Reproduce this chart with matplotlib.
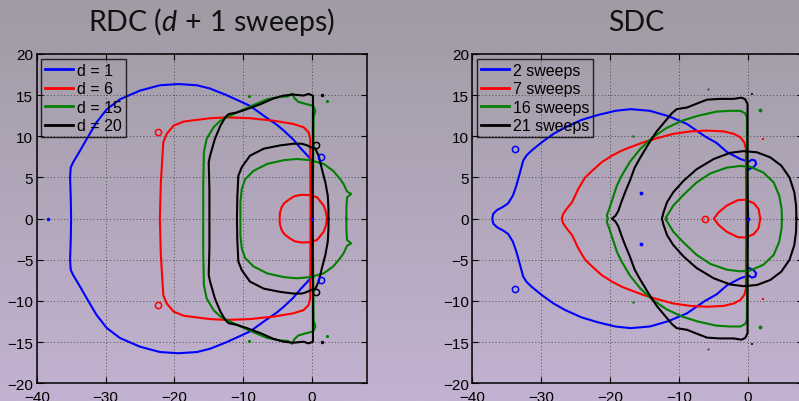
import numpy as np
import matplotlib
matplotlib.use('Agg')
from matplotlib import pyplot as plt

plt.rcParams['font.family'] = ['Liberation Sans', 'DejaVu Sans']
plt.rcParams['mathtext.fontset'] = 'custom'
plt.rcParams['mathtext.rm'] = 'Lato'
plt.rcParams['mathtext.it'] = 'Lato:italic'

# ---- RDC panel (upper halves, curves are symmetric about the real axis) ----
rdc_labels = ['d = 1', 'd = 6', 'd = 15', 'd = 20']

rdc_d1_x = [0, 0, -0.25, -1.7, -2.7, -4.1, -5.1, -6.5, -9.0, -12.4, -14.8, -16.7, -19.4,
            -22.1, -25.0, -27.9, -29.8, -31.3, -32.5, -33.0, -33.7, -34.7, -35.05, -35.15, -35.05, -35.0]
rdc_d1_y = [0, 7.05, 7.3, 8.6, 9.6, 10.7, 11.4, 12.2, 13.7, 15.0, 15.8, 16.2, 16.35,
            16.2, 15.55, 14.5, 13.3, 11.7, 10.0, 9.28, 8.26, 6.85, 6.24, 5.03, 2.5, 0]

rdc_d6_x = [-0.2, -0.25, -0.5, -1.2, -2.7, -5.6, -9.0, -12.4, -14.8, -16.7, -18.6, -20.1,
            -21.1, -21.6, -21.96, -22.1]
rdc_d6_y = [0, 9.7, 10.5, 11.1, 11.5, 11.9, 12.2, 12.3, 12.2, 12.0, 11.8, 11.3,
            10.3, 9.3, 4.4, 0]
rdc_d6_in_x = [2.2, 2.0, 1.7, 0.73, -0.3, -1.46, -2.5, -3.2, -4.0, -4.4, -4.65, -4.7]
rdc_d6_in_y = [0, 0.9, 1.6, 2.6, 2.85, 2.9, 2.75, 2.4, 1.9, 1.4, 0.7, 0]

rdc_d15_x = [0.1, 0.25, 0.5, 0.2, -1.0, -2.0, -2.5, -2.9, -3.5, -4.6, -6.5, -8.5, -10.4,
             -12.4, -13.3, -14.3, -15.3, -15.7, -15.8, -15.8]
rdc_d15_y = [0, 12.4, 13.1, 13.7, 13.95, 14.2, 14.6, 15.2, 14.85, 14.8, 14.5, 13.8, 13.1,
             12.3, 11.9, 11.1, 9.7, 8.1, 4.0, 0]
rdc_d15_in_x = [5.0, 5.0, 5.1, 5.7, 5.1, 4.6, 4.1, 3.1, 1.7, -0.25, -2.2, -4.1, -6.5,
                -8.5, -9.7, -10.2, -10.4, -10.4]
rdc_d15_in_y = [0, 1.2, 2.6, 3.0, 3.3, 4.2, 4.8, 5.8, 6.65, 7.1, 7.25, 7.1, 6.65,
                5.8, 4.8, 3.6, 2.0, 0]

rdc_d20_x = [0.1, 0.15, -0.5, -1.2, -2.7, -4.1, -5.6, -7.5, -9.45, -10.9, -12.1, -12.6,
             -13.3, -14.1, -14.8, -15.0, -14.9, -14.9]
rdc_d20_y = [0, 14.95, 15.15, 14.95, 15.07, 14.95, 14.6, 13.9, 13.3, 12.9, 12.7, 12.3,
             11.3, 9.7, 7.65, 6.85, 3.5, 0]
rdc_d20_in_x = [2.4, 2.4, 2.3, 1.95, 1.45, 0.97, 0.5, -0.25, -0.7, -1.45, -2.7, -4.6,
                -7.0, -9.0, -10.2, -10.7, -10.85, -10.9]
rdc_d20_in_y = [0, 1.2, 2.8, 4.4, 6.0, 7.65, 8.5, 8.7, 8.9, 9.1, 9.1, 8.9,
                8.5, 7.65, 6.25, 5.2, 2.5, 0]

# isolated points (x, y)
rdc_blue_dots = ([-38.4, 0], [0, 0])
rdc_blue_rings = ([1.25, 1.25], [7.45, -7.45])
rdc_red_rings = ([-22.4, -22.4], [10.5, -10.5])
rdc_green_dots = ([-9.2, -9.2, 2.2, 2.2], [14.9, -14.9, 14.3, -14.3])
rdc_black_rings = ([0.6, 0.6], [8.9, -8.9])
rdc_black_dots = ([1.45, 1.45], [15.0, -15.0])

# ---- SDC panel ----
sdc_labels = ['2 sweeps', '7 sweeps', '16 sweeps', '21 sweeps']

sdc_s2_x = [0.1, -0.1, 0.29, 0.87, 1.26, 1.1, 0.63, 0.15, -0.34, -1.07, -3.0, -4.5, -6.2,
            -8.8, -11.5, -14.2, -17.0, -19.2, -21.7, -24.1, -26.5, -28.2, -29.9, -31.4,
            -32.1, -32.6, -33.2, -33.6, -34.1, -34.8, -35.6, -36.4, -36.95, -37.1]
sdc_s2_y = [0, 5.83, 6.03, 6.24, 6.64, 7.05, 7.17, 6.9, 7.05, 7.25, 8.1, 9.2, 10.0,
            11.5, 12.45, 13.1, 13.3, 13.1, 12.6, 12.0, 11.1, 10.3, 9.28, 8.26,
            7.7, 7.05, 5.2, 4.0, 2.8, 1.85, 1.4, 1.05, 0.6, 0]

sdc_s7_x = [-0.2, -0.24, -0.48, -1.07, -2.0, -3.5, -5.9, -8.3, -10.8, -13.2, -15.1, -17.1,
            -18.3, -19.7, -21.2, -22.6, -23.6, -24.6, -25.5, -26.3, -26.8, -27.0]
sdc_s7_y = [0, 8.5, 9.28, 9.9, 10.3, 10.6, 10.7, 10.6, 10.3, 9.76, 9.28, 8.66,
            8.26, 7.65, 6.85, 5.8, 5.0, 3.6, 2.0, 1.17, 0.57, 0]
sdc_s7_in_x = [1.85, 1.6, 0.88, -0.33, -1.4, -3.0, -4.2, -4.9]
sdc_s7_in_y = [0, 1.17, 1.9, 2.3, 2.25, 1.6, 0.77, 0]

sdc_s16_x = [0, -0.1, -0.34, -1.07, -2.5, -4.5, -7.2, -9.5, -11.8, -13.9, -15.6, -17.1,
             -18.3, -19.0, -19.7, -20.1, -20.45, -20.3]
sdc_s16_y = [0, 12.3, 12.8, 13.1, 13.1, 13.0, 12.5, 11.9, 11.0, 9.8, 8.46, 6.9,
             5.2, 4.0, 2.2, 1.2, 0.4, 0]
sdc_s16_in_x = [5.0, 4.95, 4.6, 3.8, 2.3, 0.39, -1.07, -3.0, -5.4, -7.4, -9.3, -10.8,
                -11.5, -11.9, -11.7]
sdc_s16_in_y = [0, 1.17, 2.8, 4.4, 5.6, 6.3, 6.4, 6.2, 5.5, 4.4, 2.9, 1.58,
                0.6, 0.1, 0]

sdc_s21_x = [0, 0, -0.34, -0.9, -2.0, -4.0, -5.9, -7.6, -8.8, -10.3, -11.0, -11.9, -13.2,
             -14.3, -15.6, -16.4, -17.1, -17.8, -18.3, -18.8, -19.2, -19.7]
sdc_s21_y = [0, 13.9, 14.5, 14.7, 14.55, 14.55, 14.45, 13.9, 13.5, 13.3, 12.8, 11.9, 10.6,
             9.2, 7.4, 6.2, 4.6, 3.2, 2.1, 0.9, 0.35, 0]
sdc_s21_in_x = [7.1, 7.05, 6.8, 6.1, 4.9, 3.3, 1.36, -0.58, -2.5, -4.9, -7.4, -9.3,
                -10.8, -11.7, -12.2, -12.45]
sdc_s21_in_y = [0, 1.58, 3.2, 5.0, 6.44, 7.45, 8.06, 8.2, 8.0, 7.25, 6.0, 4.6,
                3.2, 2.0, 0.8, 0]

sdc_blue_rings = ([-33.8, -33.8], [8.5, -8.5])
sdc_blue_dots = ([-15.5, -15.5, 0], [3.1, -3.1, 0])
sdc_red_rings = ([-6.2], [0])
sdc_red_dots = ([2.2, 2.2], [9.7, -9.7])
sdc_green_dots = ([1.8, 1.8], [13.2, -13.2])
sdc_green_specks = ([-16.7, -16.7], [10.1, -10.1])
sdc_black_dots = ([0.6, 0.6], [15.2, -15.2])
sdc_grey_specks = ([-5.8, -5.8], [15.8, -15.8])

xticks = [-40, -30, -20, -10, 0]
yticks = [-20, -15, -10, -5, 0, 5, 10, 15, 20]
colors = ['#0000ff', '#ff0000', '#007f00', '#000000']


def mirror(xs, ys):
    # close the curve with its reflection in the real axis
    xs = np.asarray(xs, float)
    ys = np.asarray(ys, float)
    return np.r_[xs, xs[::-1]], np.r_[ys, -ys[::-1]]


def setup(ax):
    ax.set_xlim(-40, 8)
    ax.set_ylim(-20, 20)
    ax.set_facecolor('none')
    ax.set_xticks(xticks)
    ax.set_yticks(yticks)
    ax.grid(True, linestyle=(0, (1, 2.4)), color='0.3', lw=0.7)
    ax.set_axisbelow(True)
    ax.tick_params(direction='in', top=True, right=True, length=4, width=0.8,
                   labelsize=11, colors='black')
    ax.tick_params(axis='x', pad=4.5)
    ax.tick_params(axis='y', pad=2.5)
    for s in ax.spines.values():
        s.set_linewidth(1.1)


def curves(ax, groups, labels):
    handles = []
    for (parts, c, lab) in zip(groups, colors, labels):
        for i, (xs, ys) in enumerate(parts):
            mx, my = mirror(xs, ys)
            h, = ax.plot(mx, my, color=c, lw=1.5, solid_joinstyle='round')
            if i == 0:
                handles.append(h)
    leg = ax.legend(handles, labels, loc='upper left', fontsize=11.5, frameon=True,
                    fancybox=False, facecolor='none', edgecolor='black',
                    handlelength=1.75, handletextpad=0.25, borderpad=0.25,
                    labelspacing=0.22, borderaxespad=0.3)
    leg.get_frame().set_linewidth(1.0)
    for l in leg.get_lines():
        l.set_linewidth(2.0)


W, H = 799, 402
fig = plt.figure(figsize=(W / 100, H / 100), dpi=100)

# background gradient (grey top -> lavender bottom)
top = np.array([160, 155, 164]) / 255
bot = np.array([195, 178, 209]) / 255
t = np.linspace(0, 1, 256)[:, None, None]
grad = top * (1 - t) + bot * t
bg = fig.add_axes([0, 0, 1, 1], zorder=-10)
bg.imshow(grad, aspect='auto', extent=[0, 1, 0, 1])
bg.axis('off')

ax1 = fig.add_axes([36.7 / W, 17.7 / H, 330.3 / W, 329.3 / H])
ax2 = fig.add_axes([472.3 / W, 17.7 / H, 330.3 / W, 329.3 / H])
setup(ax1)
setup(ax2)

curves(ax1, [[(rdc_d1_x, rdc_d1_y)],
             [(rdc_d6_x, rdc_d6_y), (rdc_d6_in_x, rdc_d6_in_y)],
             [(rdc_d15_x, rdc_d15_y), (rdc_d15_in_x, rdc_d15_in_y)],
             [(rdc_d20_x, rdc_d20_y), (rdc_d20_in_x, rdc_d20_in_y)]], rdc_labels)
ax1.plot(*rdc_blue_dots, '.', color=colors[0], ms=3)
ax1.plot(*rdc_blue_rings, 'o', mfc='none', mec=colors[0], ms=4.5, mew=1.1)
ax1.plot(*rdc_red_rings, 'o', mfc='none', mec=colors[1], ms=4.5, mew=1.1)
ax1.plot(*rdc_green_dots, '.', color=colors[2], ms=2.5)
ax1.plot(*rdc_black_rings, 'o', mfc='none', mec=colors[3], ms=4.5, mew=1.1)
ax1.plot(*rdc_black_dots, '.', color=colors[3], ms=3)

curves(ax2, [[(sdc_s2_x, sdc_s2_y)],
             [(sdc_s7_x, sdc_s7_y), (sdc_s7_in_x, sdc_s7_in_y)],
             [(sdc_s16_x, sdc_s16_y), (sdc_s16_in_x, sdc_s16_in_y)],
             [(sdc_s21_x, sdc_s21_y), (sdc_s21_in_x, sdc_s21_in_y)]], sdc_labels)
ax2.plot(*sdc_blue_rings, 'o', mfc='none', mec=colors[0], ms=4.5, mew=1.1)
ax2.plot(*sdc_blue_dots, '.', color=colors[0], ms=3.5)
ax2.plot(*sdc_red_rings, 'o', mfc='none', mec=colors[1], ms=4.5, mew=1.1)
ax2.plot(*sdc_red_dots, 's', color=colors[1], ms=2, mew=0)
ax2.plot(*sdc_green_dots, '.', color=colors[2], ms=3.5)
ax2.plot(*sdc_green_specks, '.', color=colors[2], ms=1.5)
ax2.plot(*sdc_black_dots, 's', color='0.15', ms=2, mew=0)
ax2.plot(*sdc_grey_specks, '.', color='0.35', ms=1.5)

fig.text(211.5 / W, 1 - 30.7 / H, r'RDC ($d\,+\,1$ sweeps)', ha='center', va='baseline',
         fontsize=20.5, family='Lato', color='#111111')
fig.text(636 / W, 1 - 30.7 / H, 'SDC', ha='center', va='baseline',
         fontsize=20.5, family='Lato', color='#111111')

fig.savefig('out.png', dpi=100)
